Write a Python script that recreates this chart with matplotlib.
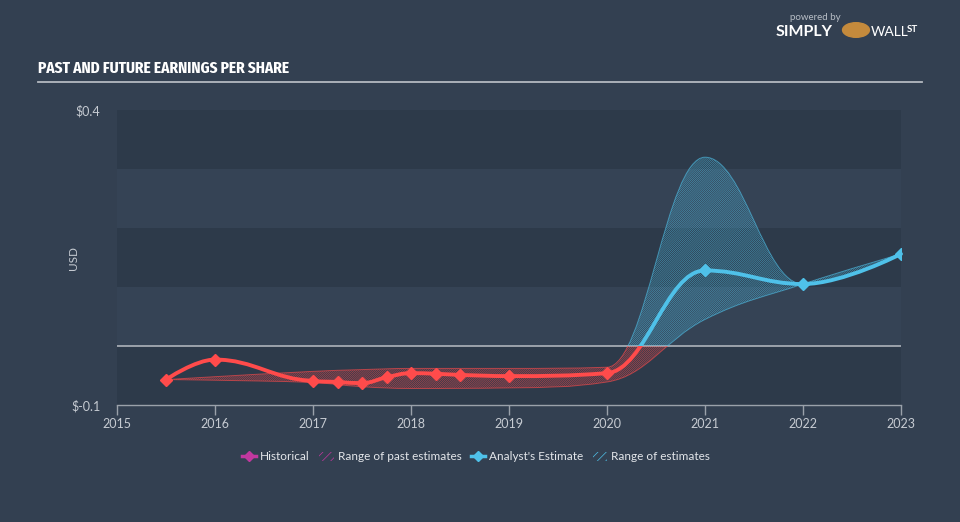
import matplotlib
matplotlib.use("Agg")
import matplotlib.pyplot as plt
from matplotlib.path import Path
from matplotlib.patches import PathPatch, Rectangle, Circle
from matplotlib.lines import Line2D

# values (EPS, USD)
hist_x = [2015.5, 2016.0, 2017.0, 2017.25, 2017.5, 2017.75, 2018.0, 2018.25, 2018.5, 2019.0, 2020.0]
hist_eps = [-0.057, -0.023, -0.059, -0.061, -0.063, -0.053, -0.046, -0.047, -0.049, -0.051, -0.046]
fc_x = [2021, 2022, 2023]
fc_eps = [0.128, 0.105, 0.156]
band_x = [2015.5, 2016.0, 2017.0, 2017.5, 2018.0, 2019.0, 2020.0, 2021, 2022, 2023]
band_hi = [-0.057, -0.052, -0.043, -0.040, -0.038, -0.038, -0.036, 0.320, 0.105, 0.156]
band_lo = [-0.057, -0.058, -0.062, -0.069, -0.072, -0.071, -0.061, 0.045, 0.105, 0.156]
years = list(range(2015, 2024))

bg = "#334051"
red = "#ff4b4b"
blue = "#4fc1e9"
magenta = "#c2389f"
grey_txt = "#c6cbd2"

plt.rcParams["font.family"] = ["Lato", "DejaVu Sans"]
plt.rcParams["hatch.linewidth"] = 0.5


def spline(xs, ys):
    # highcharts-style spline -> cubic bezier segments
    n = len(xs)
    verts = [(xs[0], ys[0])]
    codes = [Path.MOVETO]
    prev_right = (xs[0], ys[0])
    for i in range(1, n):
        x, y = xs[i], ys[i]
        if i < n - 1:
            lx, ly = xs[i - 1], ys[i - 1]
            nx, ny = xs[i + 1], ys[i + 1]
            lcx, lcy = (1.5 * x + lx) / 2.5, (1.5 * y + ly) / 2.5
            rcx, rcy = (1.5 * x + nx) / 2.5, (1.5 * y + ny) / 2.5
            corr = (rcy - lcy) * (rcx - x) / (rcx - lcx) + y - rcy
            lcy += corr
            rcy += corr
            if lcy > max(ly, y):
                lcy = max(ly, y); rcy = 2 * y - lcy
            elif lcy < min(ly, y):
                lcy = min(ly, y); rcy = 2 * y - lcy
            if rcy > max(ny, y):
                rcy = max(ny, y); lcy = 2 * y - rcy
            elif rcy < min(ny, y):
                rcy = min(ny, y); lcy = 2 * y - rcy
        else:
            lcx, lcy, rcx, rcy = x, y, x, y
        verts += [prev_right, (lcx, lcy), (x, y)]
        codes += [Path.CURVE4] * 3
        prev_right = (rcx, rcy)
    return verts, codes


fig = plt.figure(figsize=(9.6, 5.22), dpi=100, facecolor=bg)
ax = fig.add_axes([117 / 960, 1 - 405 / 522, 784 / 960, 295 / 522])
ax.set_facecolor(bg)
ax.set_xlim(2015, 2023)
ax.set_ylim(-0.1, 0.4)

# alternating bands
for k, lo in enumerate([-0.1, 0.0, 0.1, 0.2, 0.3]):
    ax.axhspan(lo, lo + 0.1, color="#2d3a4a" if k % 2 == 0 else "#354355", lw=0, zorder=0)
ax.axhline(0, color="#aeb3ba", lw=1.2, zorder=2)


def zone_clip(artist, above):
    r = Rectangle((2014, 0 if above else -1), 10, 1, transform=ax.transData)
    artist.set_clip_path(r)


# range band (past + future), zone coloured
uv, uc = spline(band_x, band_hi)
lv, lc = spline(band_x[::-1], band_lo[::-1])
verts = uv + [lv[0]] + lv[1:] + [uv[0]]
codes = uc + [Path.LINETO] + lc[1:] + [Path.CLOSEPOLY]
band_path = Path(verts, codes)
for above, col in [(True, blue), (False, red)]:
    p = PathPatch(band_path, facecolor="none", edgecolor=col, hatch="/" * 16,
                  lw=0.7, alpha=0.6, zorder=3)
    ax.add_patch(p)
    zone_clip(p, above)

# EPS line
all_x = hist_x + fc_x
all_y = hist_eps + fc_eps
lv2, lc2 = spline(all_x, all_y)
line_path = Path(lv2, lc2)
for above, col in [(True, blue), (False, red)]:
    p = PathPatch(line_path, facecolor="none", edgecolor=col, lw=2.8,
                  capstyle="round", joinstyle="round", zorder=4)
    ax.add_patch(p)
    zone_clip(p, above)

ax.plot(hist_x, hist_eps, ls="none", marker="D", ms=6.5, color=red, zorder=5)
ax.plot(fc_x, fc_eps, ls="none", marker="D", ms=6.5, color=blue, zorder=5)

# axes styling
for s in ["top", "right", "left"]:
    ax.spines[s].set_visible(False)
ax.spines["bottom"].set_color("#9aa1aa")
ax.spines["bottom"].set_linewidth(1)
ax.set_xticks(years)
ax.set_xticklabels([str(y) for y in years])
ax.tick_params(axis="x", colors="#9aa1aa", labelcolor=grey_txt, length=7, width=1,
               labelsize=9, pad=2)
ax.set_yticks([-0.1, 0.4])
ax.set_yticklabels(["$-0.1", "$0.4"])
ax.tick_params(axis="y", length=0, labelcolor=grey_txt, labelsize=9, pad=12)
fig.text(73 / 960, 1 - 258 / 522, "USD", rotation=90, color=grey_txt, fontsize=8.5,
         ha="center", va="center")

# title
fig.text(38 / 960, 1 - 68 / 522, "PAST AND FUTURE EARNINGS PER SHARE", color="white",
         fontsize=12, fontweight="bold",
         family=["Fira Sans Extra Condensed", "Archivo Narrow", "IBM Plex Sans Condensed", "DejaVu Sans"],
         va="center", ha="left")
fig.add_artist(Line2D([38 / 960, 922 / 960], [1 - 82 / 522, 1 - 82 / 522],
                      color="#b4b9c0", lw=1.3))

# logo
fig.text(790 / 960, 1 - 17 / 522, "powered by", color="#b8bec6", fontsize=7, va="center")
fig.text(776 / 960, 1 - 32 / 522, "SIMPLY", color="white", fontsize=11.5,
         fontweight="bold", va="center")
fig.add_artist(Circle((856 / 960, 1 - 30 / 522), 0.014, transform=fig.transFigure,
                      color="#c48a3c"))
fig.text(871 / 960, 1 - 32 / 522, "WALL", color="white", fontsize=10, va="center")
fig.text(907 / 960, 1 - 30 / 522, "ST", color="white", fontsize=7, fontweight="bold",
         va="center")

# legend
handles = [
    Line2D([], [], color=magenta, marker="D", ms=5, lw=2.5),
    PathPatch(Path([(0, 0), (1, 0), (1, 1), (0, 1), (0, 0)]), facecolor="none",
              edgecolor=magenta, hatch="////", lw=0),
    Line2D([], [], color=blue, marker="D", ms=5, lw=2.5),
    PathPatch(Path([(0, 0), (1, 0), (1, 1), (0, 1), (0, 0)]), facecolor="none",
              edgecolor=blue, hatch="////", lw=0),
]
labels = ["Historical", "Range of past estimates", "Analyst's Estimate", "Range of estimates"]
leg = fig.legend(handles, labels, loc="center", bbox_to_anchor=(476 / 960, 1 - 457 / 522),
                 ncol=4, frameon=False, fontsize=8.5, labelcolor="#e3e6ea",
                 handlelength=1.2, handletextpad=0.35, columnspacing=0.8)

fig.savefig("out.png", dpi=100, facecolor=bg)
